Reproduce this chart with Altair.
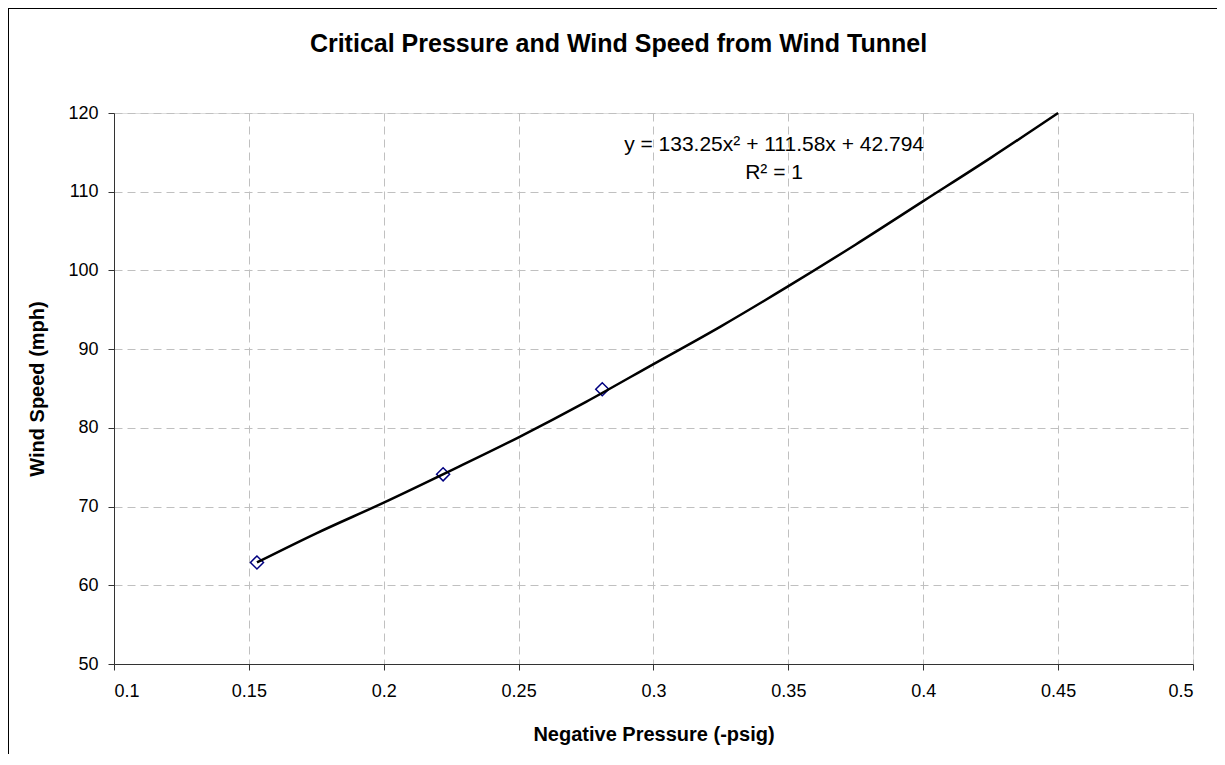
import altair as alt
import pandas as pd

# Measured data points (Negative pressure, wind speed)
pressure = [0.153, 0.222, 0.281]
speed = [62.9, 74.1, 84.9]

# Trendline points
trend_x = [0.153, 0.175, 0.2, 0.225, 0.25, 0.275, 0.3, 0.325, 0.35, 0.375, 0.4, 0.425, 0.45]
trend_y = [62.9, 66.6, 70.5, 74.6, 78.8, 83.3, 88.1, 92.9, 98.0, 103.3, 108.8, 114.3, 120.0]

x_ticks = [0.1, 0.15, 0.2, 0.25, 0.3, 0.35, 0.4, 0.45, 0.5]
y_ticks = [50, 60, 70, 80, 90, 100, 110, 120]

eq_text = ["y = 133.25x² + 111.58x + 42.794", "R² = 1"]
eq_x = [0.3447, 0.3447]
eq_y = [115.9, 112.4]

FONT = "Liberation Sans"

pts = pd.DataFrame({"p": pressure, "s": speed})
trend = pd.DataFrame({"p": trend_x, "s": trend_y})
eq = pd.DataFrame({"p": eq_x, "s": eq_y, "t": eq_text})
one = pd.DataFrame({"a": [0]})

xs = alt.Scale(domain=[0.1, 0.5], nice=False, zero=False)
ys = alt.Scale(domain=[50, 120], nice=False, zero=False)

x_axis = alt.Axis(values=x_ticks, format=".2~f", title="Negative Pressure (-psig)",
                  grid=True, gridDash=[8, 5], gridColor="#c0c0c0", gridWidth=1,
                  domainColor="#333333", tickColor="#333333", tickSize=6,
                  labelFont=FONT, labelFontSize=18, labelColor="#000000", labelPadding=12,
                  titleFont=FONT, titleFontSize=20, titleFontWeight="bold", titleColor="#000000",
                  titlePadding=24)
y_axis = alt.Axis(values=y_ticks, title="Wind Speed (mph)",
                  grid=True, gridDash=[8, 5], gridColor="#c0c0c0", gridWidth=1,
                  domainColor="#333333", tickColor="#333333", tickSize=6,
                  labelFont=FONT, labelFontSize=18, labelColor="#000000", labelPadding=10,
                  titleFont=FONT, titleFontSize=20, titleFontWeight="bold", titleColor="#000000",
                  titlePadding=20)

points = alt.Chart(pts).mark_point(shape="diamond", filled=False, color="#000080",
                                   size=170, strokeWidth=1.5, opacity=1).encode(
    x=alt.X("p:Q", scale=xs, axis=x_axis),
    y=alt.Y("s:Q", scale=ys, axis=y_axis),
)

line = alt.Chart(trend).mark_line(color="#000000", strokeWidth=2.5, interpolate="monotone").encode(
    x=alt.X("p:Q", scale=xs),
    y=alt.Y("s:Q", scale=ys),
)

text = alt.Chart(eq).mark_text(font=FONT, fontSize=21, color="#000000", align="center",
                               baseline="middle").encode(
    x=alt.X("p:Q", scale=xs),
    y=alt.Y("s:Q", scale=ys),
    text="t:N",
)

border_left = alt.Chart(one).mark_rule(color="#000000", strokeWidth=2).encode(
    x=alt.value(-106), y=alt.value(-105), y2=alt.value(700))
border_top = alt.Chart(one).mark_rule(color="#000000", strokeWidth=2).encode(
    y=alt.value(-105), x=alt.value(-106), x2=alt.value(1200))

chart = alt.layer(border_left, border_top, points, line, text).properties(
    width=1079,
    height=551,
    title=alt.TitleParams(text="Critical Pressure and Wind Speed from Wind Tunnel",
                          font=FONT, fontSize=25, fontWeight="bold", color="#000000",
                          anchor="middle", frame="group", dx=-35, offset=-50),
    autosize=alt.AutoSizeParams(type="none"),
    padding={"left": 106, "top": 105, "right": 24, "bottom": 90},
).configure_view(stroke=None).configure(background="white")

chart.save("out.html", embed_options={"renderer": "svg", "actions": False})
